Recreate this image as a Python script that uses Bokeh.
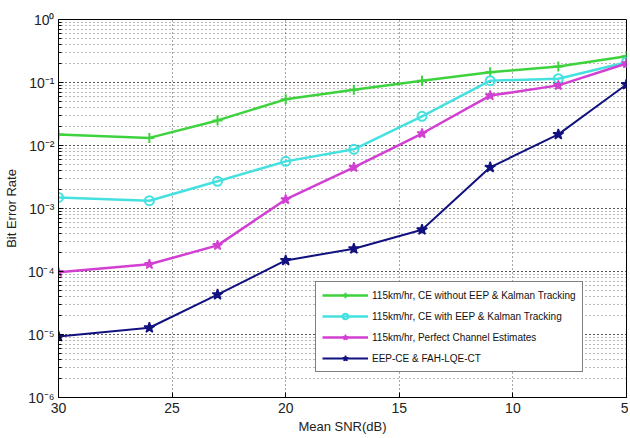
from bokeh.plotting import figure
from bokeh.models import Range1d, FixedTicker, CustomJSTickFormatter, Legend, LegendItem
from bokeh.embed import file_html
from bokeh.resources import INLINE

snr = [30, 26, 23, 20, 17, 14, 11, 8, 5]
ber_no_eep = [0.015, 0.0132, 0.025, 0.054, 0.077, 0.107, 0.145, 0.18, 0.26]
ber_eep_kalman = [0.0015, 0.00133, 0.0027, 0.0056, 0.0087, 0.029, 0.107, 0.115, 0.21]
ber_perfect = [9.7e-5, 1.3e-4, 2.6e-4, 0.00139, 0.0045, 0.0155, 0.062, 0.09, 0.2]
ber_fah = [9.3e-6, 1.28e-5, 4.3e-5, 1.5e-4, 2.3e-4, 4.6e-4, 0.0045, 0.015, 0.093]
labels = [
    "115km/hr, CE without EEP & Kalman Tracking",
    "115km/hr, CE with EEP & Kalman Tracking",
    "115km/hr, Perfect Channel Estimates",
    "EEP-CE & FAH-LQE-CT",
]
x_ticks = [30, 25, 20, 15, 10, 5]

FONT = "Liberation Sans"

p = figure(width=628, height=436, output_backend="svg", toolbar_location=None,
           x_range=Range1d(30, 5), y_range=Range1d(1e-6, 1), y_axis_type="log",
           min_border_left=58, min_border_right=2, min_border_top=19, min_border_bottom=38)
p.outline_line_color = "black"
p.outline_line_width = 1
p.background_fill_color = "white"
p.border_fill_color = "white"

# axes
p.xaxis.ticker = FixedTicker(ticks=x_ticks)
p.xaxis.axis_label = "Mean SNR(dB)"
p.yaxis.axis_label = "Bit Error Rate"
for ax in (p.xaxis[0], p.yaxis[0]):
    ax.axis_label_text_font = FONT
    ax.axis_label_text_font_style = "normal"
    ax.axis_label_text_font_size = "13px"
    ax.major_label_text_font = FONT
    ax.major_label_text_font_size = "14px"
    ax.major_tick_in = 5
    ax.major_tick_out = 0
    ax.minor_tick_in = 3
    ax.minor_tick_out = 0
    ax.axis_line_color = "black"
    ax.major_label_text_color = "#222222"
    ax.axis_label_text_color = "#222222"
p.xaxis.axis_label_standoff = 3
p.xaxis.major_label_standoff = 5
p.yaxis.axis_label_standoff = 6
p.yaxis.major_label_standoff = 4
p.yaxis.formatter = CustomJSTickFormatter(code="""
const e = Math.round(Math.log10(tick));
const sup = {'-':'\u207b','0':'\u2070','1':'\u00b9','2':'\u00b2','3':'\u00b3','4':'\u2074','5':'\u2075','6':'\u2076','7':'\u2077','8':'\u2078','9':'\u2079'};
return '10' + String(e).split('').map(c => sup[c]).join('');
""")

# grid
p.xgrid.ticker = FixedTicker(ticks=x_ticks)
p.xgrid.grid_line_color = "black"
p.xgrid.grid_line_dash = "1 3"
p.xgrid.grid_line_alpha = 0.7
p.ygrid.grid_line_color = "black"
p.ygrid.grid_line_dash = "1 3"
p.ygrid.grid_line_alpha = 0.7
p.ygrid.minor_grid_line_color = "black"
p.ygrid.minor_grid_line_dash = "1 3"
p.ygrid.minor_grid_line_alpha = 0.55

colors = ["#3ed23e", "#45e0e0", "#d23fd2", "#111180"]
widths = [2.5, 2.5, 2.5, 2.0]
series = [ber_no_eep, ber_eep_kalman, ber_perfect, ber_fah]
items = []
for i, ys in enumerate(series):
    r_line = p.line(snr, ys, line_color=colors[i], line_width=widths[i])
    if i == 0:
        r_m = p.scatter(snr, ys, marker="cross", size=10, line_color=colors[i], line_width=2)
    elif i == 1:
        r_m = p.scatter(snr, ys, marker="circle", size=9, line_color=colors[i], fill_color="white",
                        fill_alpha=0.0, line_width=2)
    elif i == 2:
        r_m = p.scatter(snr, ys, marker="star", size=10, line_color=colors[i], fill_color=colors[i],
                        line_width=1.5)
    else:
        r_m = p.scatter(snr, ys, marker="star", size=11, line_color=colors[i], fill_color=colors[i],
                        line_width=1.5)
    items.append(LegendItem(label=labels[i], renderers=[r_line, r_m]))

legend = Legend(items=items, location=(257, 25))
legend.label_text_font = FONT
legend.label_text_font_size = "10px"
legend.label_text_color = "#111111"
legend.glyph_width = 46
legend.glyph_height = 14
legend.label_standoff = 4
legend.spacing = 7
legend.padding = 6
legend.margin = 0
legend.border_line_color = "black"
legend.border_line_width = 1
legend.background_fill_color = "white"
legend.background_fill_alpha = 1.0
p.add_layout(legend, "center")

open("out.html", "w").write(file_html(p, INLINE))
